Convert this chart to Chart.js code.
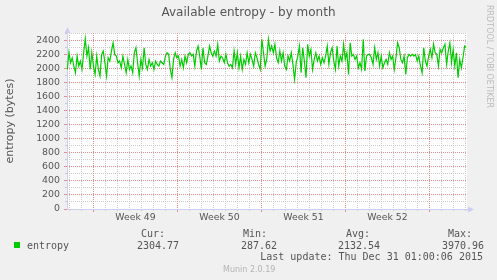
<!DOCTYPE html>
<html>
<head>
<meta charset="utf-8">
<script src="https://cdn.jsdelivr.net/npm/chart.js@4/dist/chart.umd.min.js"></script>
<style>
body { margin: 0; background: #f0f0f0; }
#wrap { position: relative; width: 497px; height: 280px; overflow: hidden; font-family: "DejaVu Sans"; color: #555; }
canvas { position: absolute; left: 0; top: 0; }
.t { position: absolute; white-space: pre; line-height: 1; }
.mono { font-family: "DejaVu Sans Mono"; font-size: 10px; line-height: 10px; }
</style>
</head>
<body>
<div id="wrap">
  <canvas id="myChart" width="497" height="280"></canvas>
  <div class="t" id="title" style="left:0;width:497px;text-align:center;top:6px;font-size:12px"></div>
  <div class="t" id="rrd" style="left:485px;top:5px;font-size:8px;color:#bbb;writing-mode:vertical-rl"></div>
  <div id="legend"></div>
  <div class="t mono" id="update" style="right:14px;top:252px"></div>
  <div class="t" id="munin" style="left:223px;top:266px;font-size:8px;color:#b4b4b4"></div>
</div>
<script>
const chartTitle = "Available entropy - by month";
const yTitle = "entropy (bytes)";
const weekLabels = ["Week 49", "Week 50", "Week 51", "Week 52"];

// hours: graph spans 800h, first monday 53h after graph start
const hoursShown = 800;
const firstMonday = 53;
const hoursPerWeek = 168;
const hoursPerDay = 24;
const firstSample = 0.6;
const sampleStep = 3.27;
const yMax = 2510;

// ~3.3h per value
const entropy = [
  1990, 2230, 2086, 2157, 2038, 1943, 2181, 2038, 2110, 1990,
  2229, 2429, 2181, 2300, 1990, 2229, 2038, 1919, 2181, 1990,
  1895, 2205, 2252, 2086, 1895, 2157, 2110, 2252, 2371, 2205,
  2181, 2086, 2110, 2014, 2181, 2062, 1943, 2133, 1990, 2038,
  1943, 2229, 2300, 2086, 1895, 2133, 2014, 2300, 2062, 1990,
  2133, 2038, 2086, 1990, 2110, 2062, 2038, 2110, 2086, 2062,
  2181, 2229, 2205, 1990, 1871, 2133,
  2229, 2157, 2181, 2038, 2133, 2014, 2181, 2086, 2205, 2229,
  2181, 2205, 2038, 2252, 2324, 2181, 1990, 2300, 2086, 2062,
  2181, 2324, 2229, 2181, 2252, 2181, 2348, 2110, 2181, 2157,
  2086, 2205, 2086, 2038, 2062, 2014, 2252, 2062, 2229, 2014,
  2181, 1990, 2133, 2062, 2229, 2086, 2205, 2133, 2038, 2229,
  2157, 2062, 1990, 2420, 2229, 2038, 2133, 2420, 2252, 2324,
  2229,
  2348, 2157, 2086, 2252, 2110, 2229, 2038, 1990, 2181, 2110,
  2229, 2062, 1848, 2086, 2181, 2324, 1943, 2300, 2110, 1871,
  2348, 2181, 2276, 1990, 2133, 2229, 2110, 2181, 2062, 2157,
  2086, 2181, 2324, 2062, 2229, 2300, 2110, 1990, 2324, 2038,
  2181, 2110, 2348, 2133, 2229, 1919, 2371, 2181, 2205, 2133,
  2181, 2014, 2086, 1990, 2420, 1967, 2181, 2205, 2205,
  2157, 2062, 2300, 2133, 2229, 2038, 2181, 2014, 2086, 2133,
  2062, 2229, 2133, 2181, 1990, 2157, 2371, 2300, 2133, 2086,
  2181, 1919, 2157, 2205, 2181, 2205, 2181, 2205, 2110, 2181,
  2038, 1943, 2300, 2110, 2038, 2181, 2276, 2157, 2348, 2229,
  2205, 2038, 2276, 2229, 2300, 2348, 2062, 2252, 2371, 2086,
  2276, 2038, 2229, 1871, 2133, 2014, 2157, 2324, 2305
];

const seriesName = "entropy";
const statLabels = ["Cur:", "Min:", "Avg:", "Max:"];
const statValues = ["2304.77", "287.62", "2132.54", "3970.96"];
const lastUpdate = "Last update: Thu Dec 31 01:00:06 2015";
const muninVersion = "Munin 2.0.19";
const rrdText = "RRDTOOL / TOBI OETIKER";

const lineColor = "#00cc00";
const axisColor = "#cdcdf5";
const minorGrid = "#cbcbcb";
const majorGrid = "#e48e8e";

document.getElementById("title").textContent = chartTitle;
document.getElementById("rrd").textContent = rrdText;
document.getElementById("update").textContent = lastUpdate;
document.getElementById("munin").textContent = muninVersion;

let legend = document.getElementById("legend");
let labelLeft = [141, 243, 346, 448];
let valueLeft = [137, 241, 338, 442];
legend.innerHTML = '<div style="position:absolute;left:14px;top:242px;width:6px;height:6px;background:' + lineColor + '"></div>' +
  '<div class="t mono" style="left:27px;top:240.5px">' + seriesName + '</div>';
for (let i = 0; i < statLabels.length; i++) {
  legend.innerHTML += '<div class="t mono" style="left:' + labelLeft[i] + 'px;top:229px">' + statLabels[i] + '</div>';
  legend.innerHTML += '<div class="t mono" style="left:' + valueLeft[i] + 'px;top:240.5px">' + statValues[i] + '</div>';
}

// day lines that are not week lines, week lines, week label positions
let dayTicks = [];
for (let h = firstMonday % hoursPerDay; h < hoursShown; h += hoursPerDay) {
  if ((h - firstMonday) % hoursPerWeek != 0) dayTicks.push({ value: h });
}
let weekTicks = [];
for (let h = firstMonday; h < hoursShown; h += hoursPerWeek) weekTicks.push({ value: h });
let weekMids = weekLabels.map((l, i) => ({ value: firstMonday + hoursPerWeek / 2 + i * hoursPerWeek }));

const plotDecor = {
  id: "plotDecor",
  beforeDraw(chart) {
    const { ctx, chartArea: a } = chart;
    ctx.save();
    ctx.fillStyle = "#fff";
    ctx.fillRect(a.left, a.top, a.right - a.left, a.bottom - a.top);
    ctx.restore();
  },
  afterDraw(chart) {
    const { ctx, chartArea: a } = chart;
    let x = Math.round(a.left) + 0.5, y = Math.round(a.bottom) + 0.5;
    ctx.save();
    ctx.fillStyle = axisColor;
    ctx.beginPath();
    ctx.moveTo(x, a.top - 6); ctx.lineTo(x - 3, a.top); ctx.lineTo(x + 3, a.top); ctx.closePath();
    ctx.fill();
    ctx.beginPath();
    ctx.moveTo(a.right + 7, y); ctx.lineTo(a.right + 1, y - 3); ctx.lineTo(a.right + 1, y + 3); ctx.closePath();
    ctx.fill();
    ctx.restore();
  }
};

Chart.defaults.font.family = "DejaVu Sans";
Chart.defaults.color = "#555";

const ctx = document.getElementById("myChart");
let myChart = new Chart(ctx, {
  type: "line",
  data: {
    datasets: [{
      label: seriesName,
      data: entropy.map((v, i) => ({ x: firstSample + i * sampleStep, y: v })),
      borderColor: lineColor,
      borderWidth: 1.2,
      pointRadius: 0,
      tension: 0
    }]
  },
  plugins: [plotDecor],
  options: {
    responsive: false,
    animation: false,
    devicePixelRatio: 1,
    layout: { padding: { top: 33, right: 30, bottom: 51, left: 0 } },
    plugins: { legend: { display: false }, tooltip: { enabled: false } },
    scales: {
      xd: {
        type: "linear", position: "bottom", min: 0, max: hoursShown,
        afterBuildTicks(s) { s.ticks = dayTicks.slice(); },
        ticks: { display: false },
        grid: { color: minorGrid, z: -2, tickLength: 2 },
        border: { display: false, dash: [1, 1] },
        afterFit(s) { s.height = 0; }
      },
      xw: {
        type: "linear", position: "bottom", min: 0, max: hoursShown,
        afterBuildTicks(s) { s.ticks = weekTicks.slice(); },
        ticks: { display: false },
        grid: { color: majorGrid, z: -1, tickLength: 3 },
        border: { display: false, dash: [1, 1] },
        afterFit(s) { s.height = 0; }
      },
      x: {
        type: "linear", position: "bottom", min: 0, max: hoursShown,
        afterBuildTicks(s) { s.ticks = weekMids.slice(); },
        ticks: {
          callback: (v, i) => weekLabels[i],
          font: { size: 9.3 }, color: "#555", padding: 3,
          maxRotation: 0, autoSkip: false
        },
        grid: { display: false, drawTicks: false },
        border: { color: axisColor },
        afterFit(s) { s.height = 20; }
      },
      yb: {
        type: "linear", position: "left", min: 0, max: yMax,
        ticks: { display: false },
        grid: { display: false, drawTicks: false },
        border: { color: axisColor },
        afterFit(s) { s.width = 0; }
      },
      y2: {
        type: "linear", position: "left", min: 0, max: yMax,
        ticks: { display: false, stepSize: 100, includeBounds: false },
        afterBuildTicks(s) { s.ticks = s.ticks.filter(t => t.value % 200 != 0); },
        grid: { color: minorGrid, z: -2, tickLength: 2 },
        border: { display: false, dash: [1, 1] },
        afterFit(s) { s.width = 0; }
      },
      y: {
        type: "linear", position: "left", min: 0, max: yMax,
        ticks: {
          stepSize: 200, includeBounds: false, font: { size: 9.4 }, color: "#555", padding: 4,
          autoSkip: false, callback: v => String(v)
        },
        grid: { color: majorGrid, z: -1, tickLength: 3 },
        border: { display: false, dash: [1, 1] },
        title: { display: true, text: yTitle, font: { size: 11 }, color: "#555", padding: { top: 4, bottom: 0 } },
        afterFit(s) { s.width = 67; }
      }
    }
  }
});
</script>
</body>
</html>
